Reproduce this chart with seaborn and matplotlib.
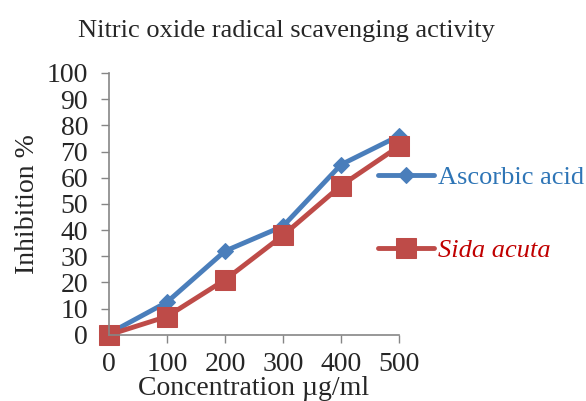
import matplotlib
matplotlib.use("Agg")
import matplotlib.pyplot as plt
import seaborn as sns
import pandas as pd

concentration = [0, 100, 200, 300, 400, 500]
ascorbic_acid = [0.5, 12.5, 32, 41.5, 65, 76]
sida_acuta = [0, 7, 21, 38, 57, 72]
series_names = ["Ascorbic acid", "Sida acuta"]
y_ticks = list(range(0, 101, 10))

df = pd.DataFrame({
    "Concentration": concentration * 2,
    "Inhibition": ascorbic_acid + sida_acuta,
    "Series": [series_names[0]] * len(concentration) + [series_names[1]] * len(concentration),
})

sns.set_theme(style="white")
plt.rcParams["font.family"] = ["Liberation Serif", "DejaVu Serif"]

fig = plt.figure(figsize=(5.86, 4.01), dpi=100)
ax = fig.add_axes([0.186, 0.165, 0.495, 0.653])

palette = {"Ascorbic acid": "#4A7EBB", "Sida acuta": "#BE4B48"}
markers = {"Ascorbic acid": "D", "Sida acuta": "s"}
sizes = {"Ascorbic acid": 8.5, "Sida acuta": 14}
for name in series_names:
    sub = df[df["Series"] == name]
    sns.lineplot(data=sub, x="Concentration", y="Inhibition", ax=ax,
                 color=palette[name], marker=markers[name],
                 markersize=sizes[name], markeredgecolor=palette[name],
                 linewidth=3.5, label=name, legend=False, clip_on=False)

ax.set_xlim(0, 500)
ax.set_ylim(0, 100)
ax.set_xticks(concentration)
ax.set_yticks(y_ticks)
ax.tick_params(axis="both", labelsize=20, length=6, width=1, color="#868686",
               direction="out", left=True, bottom=True)
ax.tick_params(axis="y", pad=9)
ax.tick_params(axis="x", pad=6)
for s in ["top", "right"]:
    ax.spines[s].set_visible(False)
for s in ["left", "bottom"]:
    ax.spines[s].set_color("#868686")
    ax.spines[s].set_linewidth(1.2)

ax.set_xlabel("Concentration µg/ml", fontsize=20, labelpad=-0.5)
ax.set_ylabel("Inhibition %", fontsize=20, labelpad=5)
fig.text(0.488, 0.922, "Nitric oxide radical scavenging activity",
         ha="center", va="center", fontsize=19)

handles, labels = ax.get_legend_handles_labels()
leg = ax.legend(handles, labels, loc="center left", bbox_to_anchor=(0.928, 0.462),
                frameon=False, fontsize=19, handlelength=2.1, handletextpad=0.18,
                labelspacing=1.85, borderaxespad=0, borderpad=0)
texts = leg.get_texts()
texts[0].set_color("#2E75B6")
texts[1].set_color("#C00000")
texts[1].set_fontstyle("italic")

fig.savefig("out.png", dpi=100)
